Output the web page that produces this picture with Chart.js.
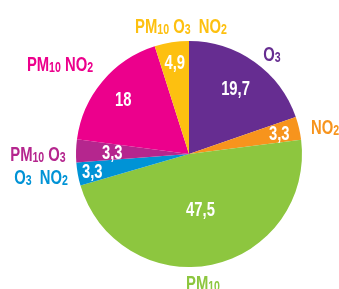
<!DOCTYPE html>
<html>
<head>
<meta charset="utf-8">
<script src="https://cdn.jsdelivr.net/npm/chart.js@4"></script>
<style>
  html, body { margin: 0; padding: 0; background: #fff; }
  #wrap { width: 339px; height: 289px; }
</style>
</head>
<body>
<div id="wrap"><canvas id="pieChart" width="339" height="289"></canvas></div>
<script>
// slice data, clockwise from 12 o'clock
const categories = ["O3", "NO2", "PM10", "O3  NO2", "PM10 O3", "PM10 NO2", "PM10 O3  NO2"];
const values = [19.7, 3.3, 47.5, 3.3, 3.3, 18, 4.9];
const valueLabels = ["19,7", "3,3", "47,5", "3,3", "3,3", "18", "4,9"];

const colors = ["#662d91", "#f7941d", "#8dc63f", "#0093d6", "#b5268e", "#ec008c", "#fdc010"];

// how far out (fraction of radius) the value sits inside each slice
const valueRadius = [0.71, 0.82, 0.5, 0.87, 0.68, 0.76, 0.82];
// outer category label centres
const outerPos = [[272, 53], [325, 126], [203, 282], [41, 176], [38, 153], [60, 63], [181, 25]];

const FONT = "'Liberation Sans', Arial, sans-serif";
const SIZE = 21;
const SX = 0.705; // squeeze text horizontally, the original uses a condensed face

function drawSqueezed(ctx, text, x, y) {
    ctx.save();
    ctx.translate(x, y);
    ctx.scale(SX, 1);
    ctx.fillText(text, 0, 0);
    ctx.restore();
}

// draws text where digits after letters are shown smaller (subscript)
function drawChem(ctx, text, cx, cy, size, color) {
    const parts = text.match(/[A-Za-z ]+|\d+/g);
    const big = "bold " + size + "px " + FONT;
    const small = "bold " + Math.round(size * 0.72) + "px " + FONT;
    let total = 0;
    parts.forEach(p => {
        ctx.font = /\d/.test(p) ? small : big;
        total += ctx.measureText(p).width * SX;
    });
    let x = cx - total / 2;
    ctx.fillStyle = color;
    ctx.textAlign = "left";
    ctx.textBaseline = "alphabetic";
    const base = cy + size * 0.36;
    parts.forEach(p => {
        const sub = /\d/.test(p);
        ctx.font = sub ? small : big;
        drawSqueezed(ctx, p, x, base + (sub ? 1 : 0));
        x += ctx.measureText(p).width * SX;
    });
}

const labelPlugin = {
    id: "sliceLabels",
    afterDraw(chart) {
        const ctx = chart.ctx;
        const arcs = chart.getDatasetMeta(0).data;
        ctx.save();
        arcs.forEach((arc, i) => {
            const mid = (arc.startAngle + arc.endAngle) / 2;
            const r = arc.outerRadius * valueRadius[i];
            const x = arc.x + Math.cos(mid) * r;
            const y = arc.y + Math.sin(mid) * r;
            ctx.font = "bold " + SIZE + "px " + FONT;
            ctx.fillStyle = "#fff";
            ctx.textAlign = "center";
            ctx.textBaseline = "middle";
            drawSqueezed(ctx, valueLabels[i], x, y + 1);

            drawChem(ctx, categories[i], outerPos[i][0], outerPos[i][1], SIZE, colors[i]);
        });
        ctx.restore();
    }
};

const ctx = document.getElementById("pieChart").getContext("2d");
new Chart(ctx, {
    type: "pie",
    data: {
        labels: categories,
        datasets: [
            {
                data: values,
                backgroundColor: colors,
                borderWidth: 0
            }
        ]
    },
    options: {
        responsive: false,
        animation: false,
        layout: {
            padding: { left: 76, right: 37, top: 41, bottom: 22 }
        },
        plugins: {
            legend: { display: false },
            tooltip: { enabled: false }
        }
    },
    plugins: [labelPlugin]
});
</script>
</body>
</html>
